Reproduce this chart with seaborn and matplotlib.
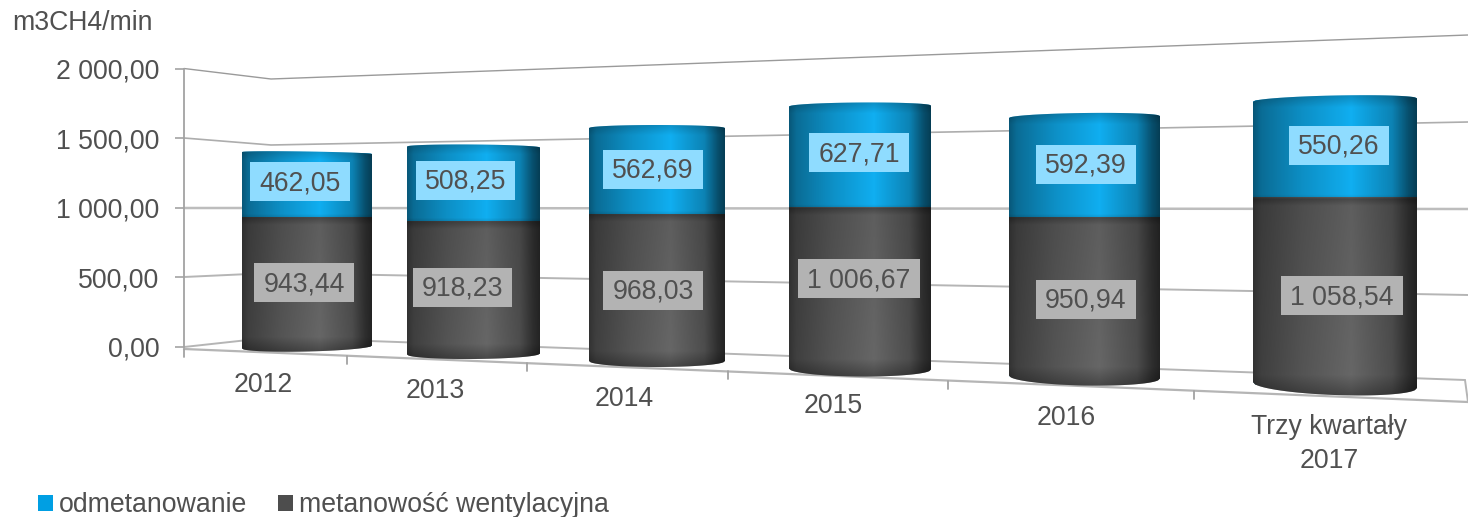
import numpy as np
import pandas as pd
import matplotlib
matplotlib.use("Agg")
import matplotlib.pyplot as plt
import seaborn as sns
from matplotlib.patches import Patch, Polygon, Rectangle
from matplotlib.transforms import IdentityTransform

# chart values
categories = ["2012", "2013", "2014", "2015", "2016", "Trzy kwartały\n2017"]
odmetanowanie = [462.05, 508.25, 562.69, 627.71, 592.39, 550.26]
wentylacyjna = [943.44, 918.23, 968.03, 1006.67, 950.94, 1058.54]
y_ticks = [0, 500, 1000, 1500, 2000]
series_names = ["odmetanowanie", "metanowość wentylacyjna"]

# perspective layout, all in pixels of the 1468x517 picture
W, H = 1468, 517
bar_left = [242, 407, 589, 789, 1009, 1253]
bar_right = [372, 540, 725, 931, 1160, 1417]
bar_base = [347, 354, 361, 369, 377, 385]
bar_top = [153, 147, 128, 106, 117, 100]
top_bulge = [1.5, 2.5, 3, 3.5, 4, 4.5]
base_bulge = [4.5, 5, 6, 7.5, 8.5, 10]
top_tilt = [-2, -1, 0, 1, 2, 3.4]
base_tilt = [3, 1, 0, -1, -3, -6]
blue_shift = [(-7, -1.5), (-8, -2), (-4, 0), (-1, -2.5), (1.5, -1), (4, -2)]
grey_shift = [(-3, 2.5), (-11, 1.5), (-4, 4.5), (-1, -8), (1.5, 4), (7, 6)]
cat_label_xy = [(263, 385), (435, 391), (624, 399), (833, 406), (1066, 418), (1329, 444)]
axis_x, axis_y0, axis_y2000 = 184, 347, 68.5
wall_lines = [
    ([184, 271, 1468], [68.5, 79, 35], 1.0, "#9a9a9a"),
    ([184, 271, 1468], [138, 145, 122], 1.2, "#adadad"),
    ([184, 271, 1468], [208, 208, 209], 1.8, "#bdbdbd"),
    ([184, 271, 1468], [277, 273, 295], 1.4, "#b5b5b5"),
    ([184, 271, 1465, 1468], [347, 337.5, 380, 402], 1.4, "#b5b5b5"),
]
floor_front = ([184, 1468], [349, 402])
floor_ticks = [184, 347, 527, 728, 948, 1194]

BLUE = "#10aef0"
GREY = "#666666"
TEXT = "#505050"
AXIS = "#a3a3a3"
FS = 19.2


def fmt_pl(v):
    return f"{v:,.2f}".replace(",", " ").replace(".", ",")


def px_axes(fig, left, right, top, bottom, **kw):
    return fig.add_axes([left / W, 1 - bottom / H, (right - left) / W, (bottom - top) / H], **kw)


def add_label(fig, ax, value, mid, shift, box_color):
    t = ax.annotate(fmt_pl(value), xy=(0, mid), xycoords="data",
                    xytext=(shift[0] * 0.72, -shift[1] * 0.72), textcoords="offset points",
                    ha="center", va="center", fontsize=FS, color=TEXT, zorder=6)
    bb = t.get_window_extent(fig.canvas.get_renderer())
    cy = (bb.y0 + bb.y1) / 2 + 1.5
    ax.add_patch(Rectangle((bb.x0 - 9, cy - 19.5), bb.width + 18, 39, facecolor=box_color,
                           edgecolor="none", transform=IdentityTransform(), zorder=5, clip_on=False))


def draw_cylinder(fig, i):
    total = odmetanowanie[i] + wentylacyjna[i]
    vent = wentylacyjna[i]
    base, top = bar_base[i], bar_top[i]
    scale = (base - top) / total
    ax = px_axes(fig, bar_left[i], bar_right[i], 0, H, zorder=2)
    ax.patch.set_alpha(0)

    df = pd.DataFrame({"cat": [categories[i]], "total": [total], "vent": [vent]})
    sns.barplot(data=df, x="cat", y="total", color=BLUE, saturation=1, width=1, linewidth=0, ax=ax, zorder=2)
    sns.barplot(data=df, x="cat", y="vent", color=GREY, saturation=1, width=1, linewidth=0, ax=ax, zorder=2)

    ymin, ymax = (base - H) / scale, base / scale

    # outline of the cylinder with its curved top and bottom
    u = np.linspace(-0.5, 0.5, 80)
    arc = np.sqrt(np.clip(1 - (2 * u) ** 2, 0, 1))
    top_y = total + (top_bulge[i] * arc + top_tilt[i] * u) / scale
    low_y = -(base_bulge[i] * arc) / scale + base_tilt[i] * u / scale
    outline = np.vstack([np.column_stack([u, low_y]), np.column_stack([u[::-1], top_y[::-1]])])
    silhouette = Polygon(outline, closed=True, transform=ax.transData, facecolor="none", edgecolor="none")
    ax.add_patch(silhouette)
    for bar in ax.patches[:2]:
        bar.set_clip_path(silhouette)

    top_cap = np.vstack([np.column_stack([u, np.full_like(u, total - 12 / scale)]),
                         np.column_stack([u[::-1], top_y[::-1]])])
    low_cap = np.vstack([np.column_stack([u, low_y]),
                         np.column_stack([u[::-1], np.full_like(u, 12 / scale)])])
    ax.add_patch(Polygon(top_cap, closed=True, facecolor=BLUE, edgecolor="none", linewidth=0, zorder=2))
    ax.add_patch(Polygon(low_cap, closed=True, facecolor=GREY, edgecolor="none", linewidth=0, zorder=2))

    # shading so it reads as a round shape
    ys = np.linspace(ymin, ymax, 500)
    ypx = base - ys * scale
    join = base - vent * scale
    a_h = np.interp(np.linspace(0, 1, 200), [0, 0.05, 0.3, 0.6, 0.85, 0.95, 1],
                    [0.5, 0.38, 0.18, 0, 0.25, 0.55, 0.65])
    a_v = np.interp(ypx, [top - 5, top + 7, join - 3, join, join + 1, join + 8, base - 10, base + base_bulge[i]],
                    [0.2, 0, 0, 0.1, 0.3, 0.08, 0, 0.3])
    alpha = 1 - (1 - a_h[None, :]) * (1 - a_v[:, None])
    rgba = np.zeros((len(ys), 200, 4))
    rgba[..., 3] = alpha
    im = ax.imshow(rgba, extent=(-0.5, 0.5, ymin, ymax), origin="lower", aspect="auto", zorder=3)
    im.set_clip_path(silhouette)

    ax.set_xlim(-0.5, 0.5)
    ax.set_ylim(ymin, ymax)
    ax.axis("off")

    add_label(fig, ax, odmetanowanie[i], vent + odmetanowanie[i] / 2, blue_shift[i], "#8fdcff")
    add_label(fig, ax, vent, vent / 2, grey_shift[i], "#b3b3b3")


sns.set_theme(style="white")
plt.rcParams["font.family"] = ["Liberation Sans", "DejaVu Sans"]

fig = plt.figure(figsize=(W / 100, H / 100), dpi=100)
fig.canvas.draw()

# walls and floor drawn in picture coordinates
guide = fig.add_axes([0, 0, 1, 1], zorder=0)
guide.set_xlim(0, W)
guide.set_ylim(H, 0)
guide.axis("off")
for xs, ys, lw, col in wall_lines:
    guide.plot(xs, ys, color=col, lw=lw, solid_joinstyle="miter")
guide.plot(floor_front[0], floor_front[1], color="#b5b5b5", lw=1.6)
for x in floor_ticks:
    y = np.interp(x, floor_front[0], floor_front[1])
    guide.plot([x, x], [y, y + 8], color=AXIS, lw=1.3)
guide.text(12, 23, "m3CH4/min", fontsize=FS, color=TEXT, ha="left", va="center")
for name, (x, y) in zip(categories, cat_label_xy):
    guide.text(x, y, name, fontsize=FS, color=TEXT, ha="center", va="center", linespacing=1.37)

# value axis
main = px_axes(fig, axis_x, axis_x + 1, axis_y2000, axis_y0, zorder=1)
main.patch.set_alpha(0)
main.set_ylim(0, 2000)
main.set_xticks([])
main.set_yticks(y_ticks)
main.set_yticklabels([fmt_pl(v) for v in y_ticks], fontsize=FS, color=TEXT)
main.tick_params(axis="y", left=True, length=6.5, width=1.2, color=AXIS, pad=11)
for side in ["top", "right", "bottom"]:
    main.spines[side].set_visible(False)
main.spines["left"].set_color(AXIS)
main.spines["left"].set_linewidth(1.3)

for i in range(len(categories)):
    draw_cylinder(fig, i)

handles = [Patch(facecolor="#009fe3", edgecolor="none"), Patch(facecolor="#4d4d4d", edgecolor="none")]
fig.legend(handles, series_names, loc="lower left", bbox_to_anchor=(38 / W, -1.5 / H), ncol=2, frameon=False,
           fontsize=FS, handlelength=0.55, handleheight=0.55, handletextpad=0.22, columnspacing=1.17,
           borderpad=0, borderaxespad=0, labelcolor=TEXT)

fig.savefig("out.png", dpi=100)
